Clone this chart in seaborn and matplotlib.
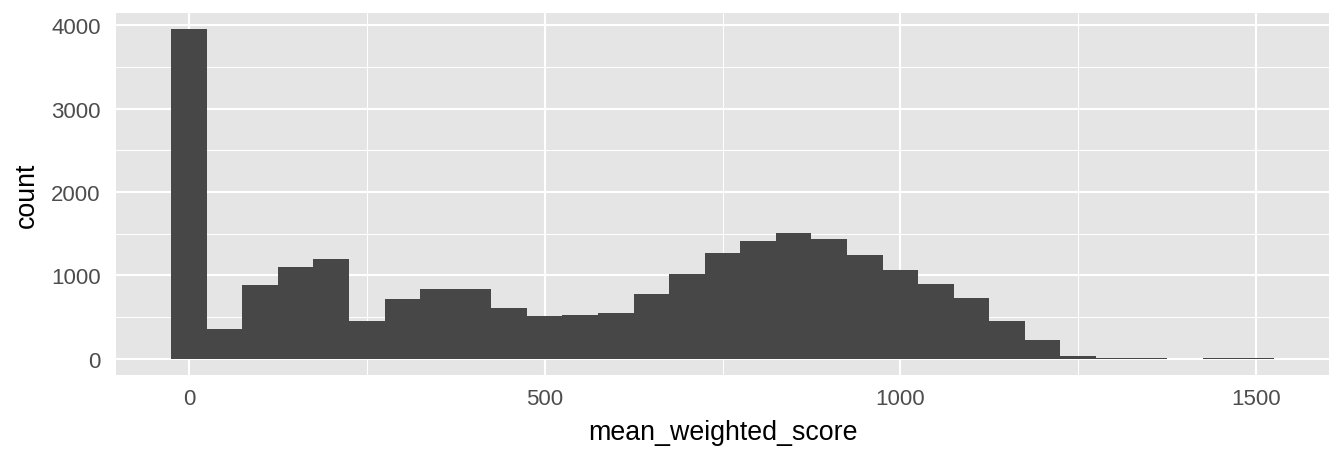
import numpy as np
import pandas as pd
import matplotlib
matplotlib.use("Agg")
import matplotlib.pyplot as plt
import seaborn as sns
from matplotlib.ticker import FixedLocator

# Data (bin width 50, centred on multiples of 50)
bin_centers = [0, 50, 100, 150, 200, 250, 300, 350, 400, 450, 500, 550, 600, 650, 700,
               750, 800, 850, 900, 950, 1000, 1050, 1100, 1150, 1200, 1250, 1300, 1350,
               1400, 1450, 1500]
counts = [3950, 350, 880, 1095, 1200, 445, 710, 830, 840, 612, 505, 520, 552, 780, 1020,
          1265, 1405, 1512, 1440, 1248, 1068, 900, 732, 452, 220, 25, 4, 3, 0, 2, 2]
bin_width = 50
x_ticks = [0, 500, 1000, 1500]
y_ticks = [0, 1000, 2000, 3000, 4000]

df = pd.DataFrame({"mean_weighted_score": bin_centers, "count": counts})
edges = [float(c - bin_width / 2) for c in bin_centers] + [float(bin_centers[-1] + bin_width / 2)]

sns.set_theme(style="darkgrid")
plt.rcParams["font.family"] = ["Liberation Sans", "DejaVu Sans"]

fig = plt.figure(figsize=(13.44, 4.6), dpi=100)
ax = fig.add_axes([116 / 1344, 1 - 376 / 460, (1329 - 116) / 1344, (376 - 14) / 460])
ax.set_facecolor("#E5E5E5")

sns.histplot(data=df, x="mean_weighted_score", weights="count", bins=edges,
             color="#474747", edgecolor="none", linewidth=0, alpha=1, ax=ax)

span_x = edges[-1] - edges[0]
ax.set_xlim(edges[0] - 0.05 * span_x, edges[-1] + 0.05 * span_x)
ymax = max(counts)
ax.set_ylim(-0.05 * ymax, ymax * 1.05)

ax.xaxis.set_major_locator(FixedLocator(x_ticks))
ax.yaxis.set_major_locator(FixedLocator(y_ticks))
ax.xaxis.set_minor_locator(FixedLocator([250, 750, 1250]))
ax.yaxis.set_minor_locator(FixedLocator([500, 1500, 2500, 3500]))

ax.grid(which="major", color="white", linewidth=1.5)
ax.grid(which="minor", color="white", linewidth=0.75)
ax.set_axisbelow(True)
for s in ax.spines.values():
    s.set_visible(False)

ax.tick_params(axis="both", which="major", length=5, width=1.4, color="#333333",
               labelsize=16, labelcolor="#4D4D4D")
ax.tick_params(axis="x", which="major", pad=4.5)
ax.tick_params(axis="y", which="major", pad=6)
ax.tick_params(axis="both", which="minor", length=0)

ax.set_xlabel("mean_weighted_score", fontsize=19.3, color="black", labelpad=7)
ax.set_ylabel("count", fontsize=19.3, color="black", labelpad=8)

fig.savefig("out.png", dpi=100)
